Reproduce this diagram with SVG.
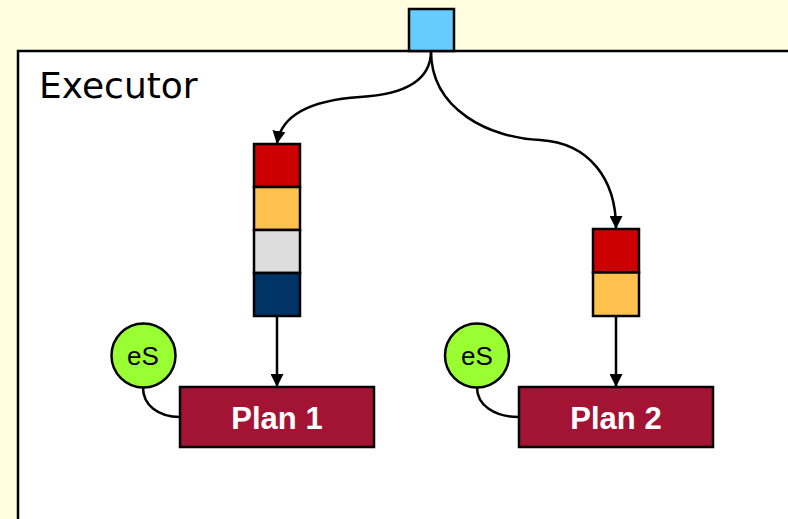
<svg xmlns="http://www.w3.org/2000/svg" width="788" height="519" viewBox="0 0 788 519">
  <defs>
    <marker id="arrow" markerWidth="13" markerHeight="13" refX="12" refY="6.5" orient="auto" markerUnits="userSpaceOnUse">
      <path d="M0,0 L13,6.5 L0,13 Z" fill="#000"/>
    </marker>
    <style>
      .box { stroke: #000; stroke-width: 2.5; }
      .edge { fill: none; stroke: #000; stroke-width: 2.5; }
      .plan { fill: #A31434; stroke: #000; stroke-width: 2.5; }
      .plan-label { font-family: "Liberation Sans", Arial, sans-serif; font-weight: bold; font-size: 31px; fill: #fff; text-anchor: middle; }
      .es { fill: #99FF33; stroke: #000; stroke-width: 2.5; }
      .es-label { font-family: "Liberation Sans", Arial, sans-serif; font-size: 26px; fill: #000; text-anchor: middle; }
    </style>
  </defs>

  <!-- page background -->
  <rect x="0" y="0" width="788" height="519" fill="#FFFFE0"/>

  <!-- executor frame, running off the right and bottom edges -->
  <g id="executor">
    <rect x="18" y="51" width="800" height="500" fill="#fff" stroke="#000" stroke-width="2.5"/>
    <text x="39" y="98" font-family="DejaVu Sans, Verdana, sans-serif" font-size="36" fill="#000">Executor</text>
  </g>

  <!-- incoming port -->
  <g id="port">
    <rect class="box" x="409" y="9" width="45" height="42" fill="#66CCFF"/>
  </g>

  <!-- queue feeding plan 1 -->
  <g id="queue1">
    <rect class="box" x="254" y="144" width="46" height="43" fill="#CC0000"/>
    <rect class="box" x="254" y="187" width="46" height="43" fill="#FFC14D"/>
    <rect class="box" x="254" y="230" width="46" height="43" fill="#DDDDDD"/>
    <rect class="box" x="254" y="273" width="46" height="43" fill="#003366"/>
  </g>

  <!-- queue feeding plan 2 -->
  <g id="queue2">
    <rect class="box" x="593" y="229" width="46" height="43.5" fill="#CC0000"/>
    <rect class="box" x="593" y="272.5" width="46" height="43.5" fill="#FFC14D"/>
  </g>

  <g id="plan1">
    <rect class="plan" x="180" y="387" width="194" height="60"/>
    <text class="plan-label" x="277" y="428.5">Plan 1</text>
  </g>

  <g id="plan2">
    <rect class="plan" x="519" y="387" width="194" height="60"/>
    <text class="plan-label" x="616" y="428.5">Plan 2</text>
  </g>

  <g id="es1">
    <circle class="es" cx="143.5" cy="355.5" r="32"/>
    <text class="es-label" x="143" y="365">eS</text>
  </g>

  <g id="es2">
    <circle class="es" cx="477" cy="355.5" r="32"/>
    <text class="es-label" x="477" y="365">eS</text>
  </g>

  <g id="connectors">
    <path class="edge" d="M431,51 C431,85 395,95 360,97 C315,100 282,112 277,143" marker-end="url(#arrow)"/>
    <path class="edge" d="M431,51 C431,110 490,138 540,140 C590,143 616,180 616,228" marker-end="url(#arrow)"/>
    <path class="edge" d="M277,316 L277,386" marker-end="url(#arrow)"/>
    <path class="edge" d="M616,316 L616,386" marker-end="url(#arrow)"/>
    <path class="edge" d="M143,387.5 C143,405 158,417 180,417"/>
    <path class="edge" d="M477,387.5 C477,405 494,417 519,417"/>
  </g>
</svg>
